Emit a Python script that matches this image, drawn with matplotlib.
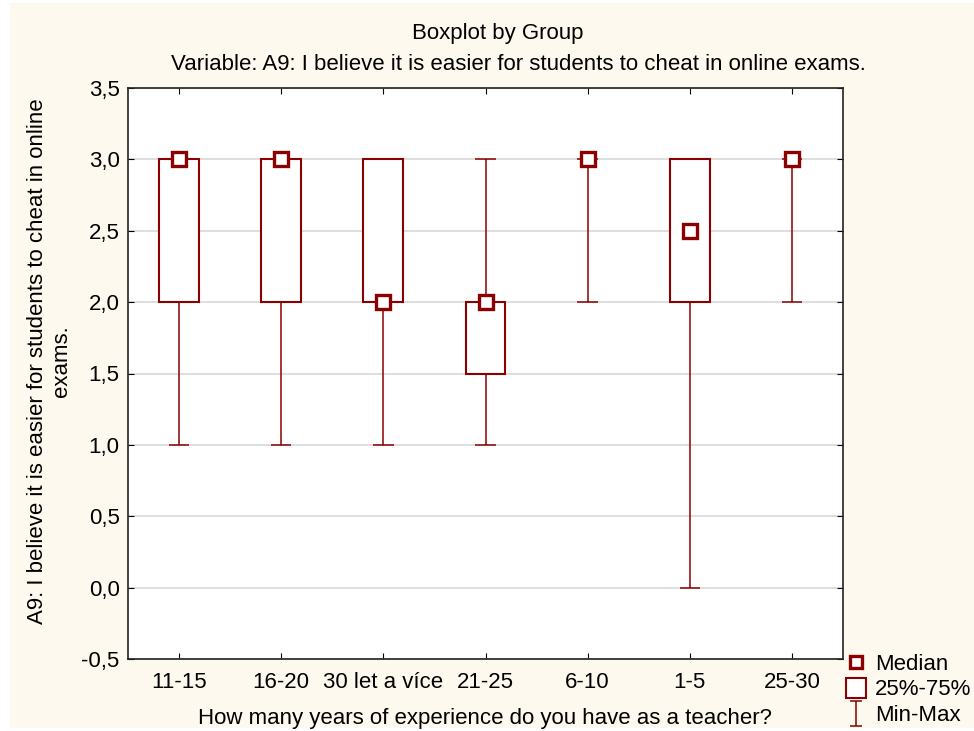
import numpy as np
import matplotlib
matplotlib.use("Agg")
import matplotlib.pyplot as plt
from matplotlib.lines import Line2D
from matplotlib.patches import Rectangle
from matplotlib.path import Path
from matplotlib.ticker import FuncFormatter

groups = ["11-15", "16-20", "30 let a více", "21-25", "6-10", "1-5", "25-30"]
mins = [1.0, 1.0, 1.0, 1.0, 2.0, 0.0, 2.0]
q1s = [2.0, 2.0, 2.0, 1.5, 3.0, 2.0, 3.0]
medians = [3.0, 3.0, 2.0, 2.0, 3.0, 2.5, 3.0]
q3s = [3.0, 3.0, 3.0, 2.0, 3.0, 3.0, 3.0]
maxs = [3.0, 3.0, 3.0, 3.0, 3.0, 3.0, 3.0]
y_ticks = [-0.5, 0.0, 0.5, 1.0, 1.5, 2.0, 2.5, 3.0, 3.5]

red = "#8b0000"
cream = "#fef9ee"
fs = 16

plt.rcParams['font.family'] = ['Liberation Sans', 'DejaVu Sans']

fig = plt.figure(figsize=(9.74, 7.31), dpi=100)
fig.patch.set_facecolor("white")
fig.patches.append(Rectangle((10 / 974, 3 / 731), 1, 725 / 731, transform=fig.transFigure,
                             facecolor=cream, edgecolor="none", zorder=-10))

ax = fig.add_axes([128 / 974, 1 - 659 / 731, 715 / 974, 571 / 731])
ax.set_facecolor("white")

x = np.arange(len(groups))
box_w = 0.39
cap_w = 0.2

# whiskers and caps
ax.vlines(x, q3s, maxs, color=red, lw=1.1, zorder=2)
ax.vlines(x, mins, q1s, color=red, lw=1.1, zorder=2)
ax.hlines(maxs, x - cap_w / 2, x + cap_w / 2, color=red, lw=1.1, zorder=2)
ax.hlines(mins, x - cap_w / 2, x + cap_w / 2, color=red, lw=1.1, zorder=2)

# boxes (skip the collapsed ones)
heights = np.array(q3s) - np.array(q1s)
keep = heights > 0
ax.bar(x[keep], heights[keep], bottom=np.array(q1s)[keep], width=box_w,
       facecolor="white", edgecolor=red, lw=1.5, zorder=3)

ax.plot(x, medians, ls="none", marker="s", ms=10, mfc="white", mec=red, mew=2.4, zorder=4)

ax.set_xlim(-0.5, len(groups) - 0.5)
ax.set_ylim(-0.5, 3.5)
ax.set_xticks(x)
ax.set_xticklabels(groups)
ax.set_yticks(y_ticks)
ax.yaxis.set_major_formatter(FuncFormatter(lambda v, p: f"{v:.1f}".replace(".", ",")))
ax.tick_params(direction="in", top=True, right=True, length=4, labelsize=fs)
ax.tick_params(axis="x", pad=9.5)
ax.tick_params(axis="y", pad=6)
ax.grid(axis="y", color="#d8d8d8", lw=1.2, zorder=0)
ax.set_axisbelow(True)
for s in ax.spines.values():
    s.set_linewidth(1.2)
    s.set_color("#222222")

ax.set_xlabel("How many years of experience do you have as a teacher?", fontsize=fs, labelpad=11)
ax.set_ylabel("A9: I believe it is easier for students to cheat in online\nexams.",
              fontsize=fs)
ax.yaxis.set_label_coords(-0.078, 0.521)

fig.text(0.511, 1 - 34 / 731, "Boxplot by Group", ha="center", va="center", fontsize=fs)
fig.text(0.532, 1 - 64 / 731,
         "Variable: A9: I believe it is easier for students to cheat in online exams.",
         ha="center", va="center", fontsize=fs)

minmax_marker = Path([(-0.5, -1), (0.5, -1), (0, -1), (0, 1), (-0.5, 1), (0.5, 1)],
                     [Path.MOVETO, Path.LINETO, Path.MOVETO, Path.LINETO, Path.MOVETO, Path.LINETO])
handles = [
    Line2D([], [], ls="none", marker="s", ms=9, mfc="white", mec=red, mew=2.4),
    Line2D([], [], ls="none", marker="s", ms=15, mfc="white", mec=red, mew=1.5),
    Line2D([], [], ls="none", marker=minmax_marker, ms=18, color=red, mew=1.1),
]
fig.legend(handles, ["Median", "25%-75%", "Min-Max"], loc="upper left",
           bbox_to_anchor=(846 / 974, 1 - 654 / 731), frameon=False, fontsize=fs,
           handlelength=0.9, handletextpad=0.4, labelspacing=0.2, borderaxespad=0,
           borderpad=0)

fig.savefig("out.png", dpi=100)
